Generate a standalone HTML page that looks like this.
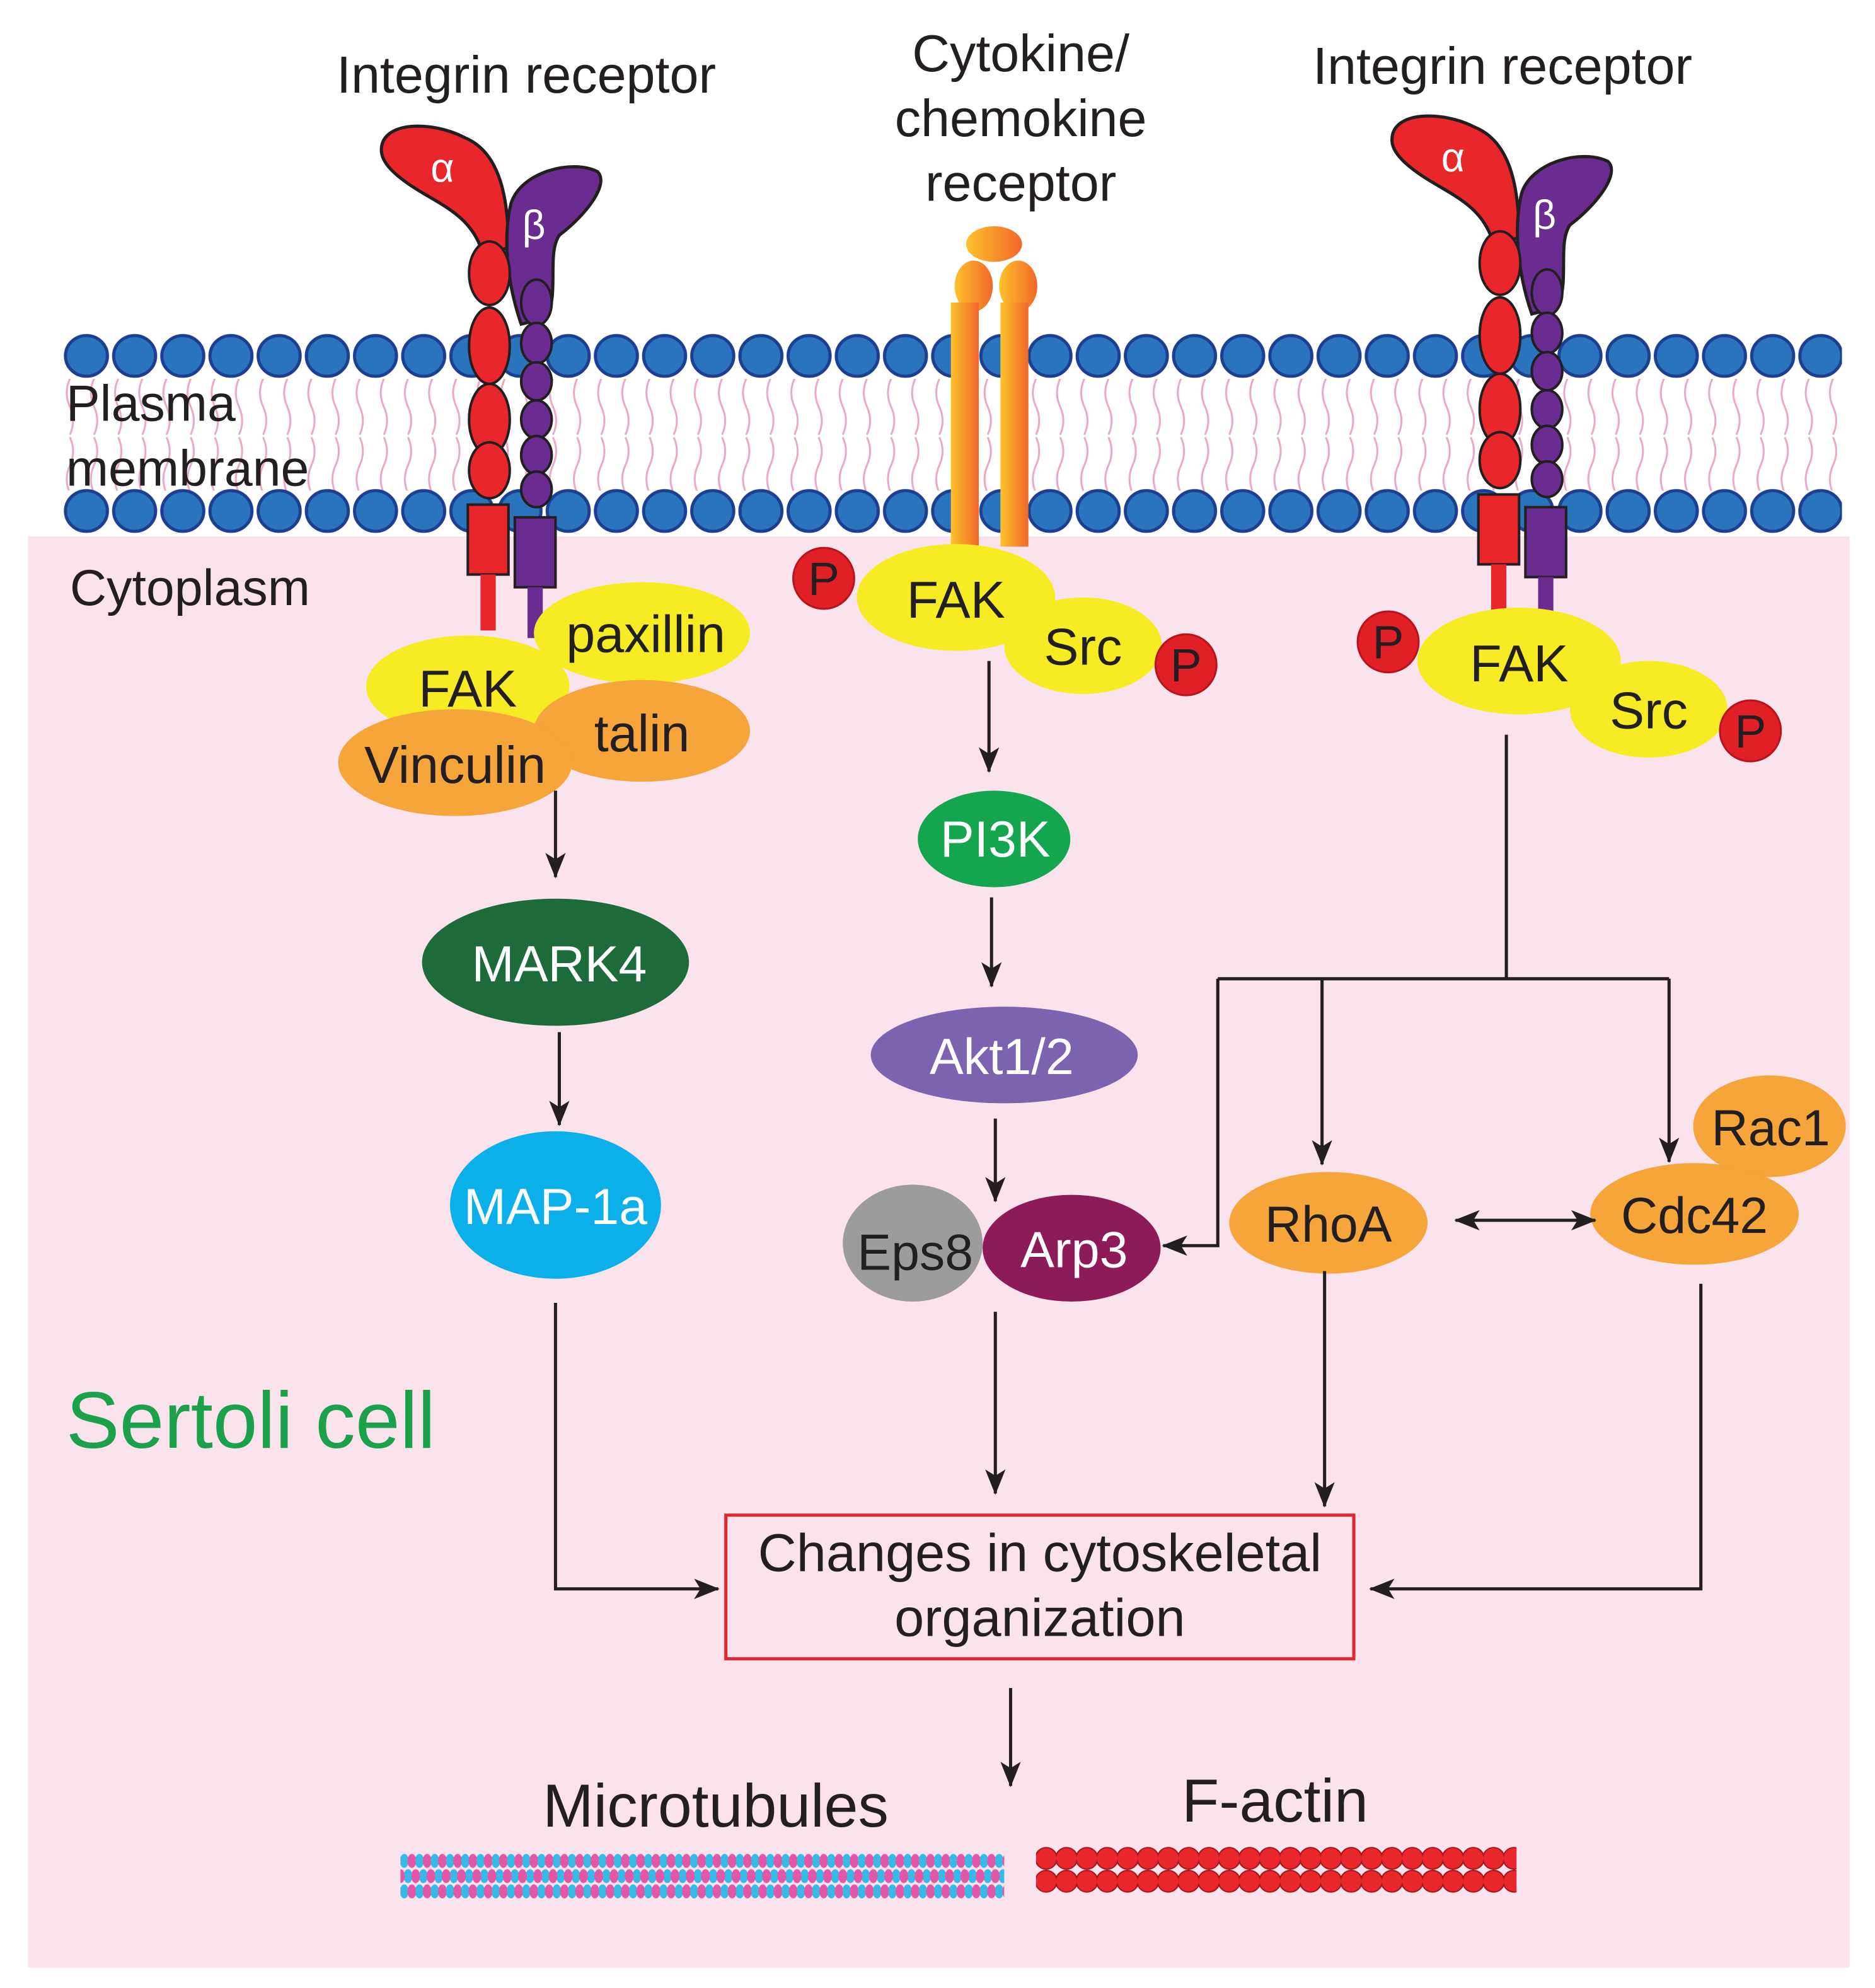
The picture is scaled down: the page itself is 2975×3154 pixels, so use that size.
<!DOCTYPE html>
<html><head><meta charset="utf-8"><style>html,body{margin:0;padding:0;background:#fff}svg{display:block}text{font-family:"Liberation Sans",sans-serif}</style></head>
<body>
<svg width="2975" height="3154" viewBox="0 0 1475 1564" preserveAspectRatio="none" xmlns="http://www.w3.org/2000/svg">
<defs>
<pattern id="bead1" x="49" y="260" width="37.9" height="40" patternUnits="userSpaceOnUse">
<ellipse cx="19" cy="20" rx="16.5" ry="16" fill="#2a73bd" stroke="#1d3f8f" stroke-width="2.5"/>
</pattern>
<pattern id="bead2" x="49" y="382" width="37.9" height="40" patternUnits="userSpaceOnUse">
<ellipse cx="19" cy="20" rx="16.5" ry="16" fill="#2a73bd" stroke="#1d3f8f" stroke-width="2.5"/>
</pattern>
<pattern id="lip" x="50" y="298" width="19" height="90" patternUnits="userSpaceOnUse">
<path d="M5 0 q-5 11 0 22 q5 11 0 22 M5 46 q5 11 0 22 q-5 11 0 22" fill="none" stroke="#eaa7c9" stroke-width="1.5"/>
</pattern>
<linearGradient id="og" x1="0" x2="1"><stop offset="0" stop-color="#fdc22a"/><stop offset="1" stop-color="#f2672a"/></linearGradient>
<pattern id="mt" x="315" y="1458" width="12" height="36" patternUnits="userSpaceOnUse">
<ellipse cx="3" cy="6" rx="3.5" ry="5.5" fill="#35b9e6"/><ellipse cx="9" cy="6" rx="3.5" ry="5.5" fill="#e357a8"/>
<ellipse cx="6" cy="18" rx="3.5" ry="5.5" fill="#35b9e6"/><ellipse cx="12" cy="18" rx="3.5" ry="5.5" fill="#e357a8"/><ellipse cx="0" cy="18" rx="3.5" ry="5.5" fill="#e357a8"/>
<ellipse cx="3" cy="30" rx="3.5" ry="5.5" fill="#35b9e6"/><ellipse cx="9" cy="30" rx="3.5" ry="5.5" fill="#e357a8"/>
</pattern>
<pattern id="fa" x="815" y="1450" width="16" height="44" patternUnits="userSpaceOnUse">
<circle cx="8" cy="12" r="8.5" fill="#e8262b" stroke="#a0161b" stroke-width="1"/>
<circle cx="8" cy="30" r="8.5" fill="#e8262b" stroke="#a0161b" stroke-width="1"/>
</pattern>
<marker id="ah" viewBox="0 0 20 16" refX="19" refY="8" markerWidth="20" markerHeight="16" markerUnits="userSpaceOnUse" orient="auto-start-reverse">
<path d="M0 0 L20 8 L0 16 L5 8 Z" fill="#231f20"/>
</marker>
<g id="integ">
<path d="M300 118 C300 95 340 95 365 108 C395 120 400 160 400 195 L380 200 C370 165 340 160 315 140 C305 132 300 125 300 118Z" fill="#e8262b" stroke="#231f20" stroke-width="2.5"/>
<path d="M402 160 C410 135 450 125 470 135 C480 145 460 170 440 185 C430 200 440 230 430 250 L410 255 C398 220 396 185 402 160Z" fill="#6a2c91" stroke="#231f20" stroke-width="2.5"/>
<g fill="#e8262b" stroke="#231f20" stroke-width="2">
<ellipse cx="385" cy="215" rx="16" ry="25"/><ellipse cx="385" cy="272" rx="16" ry="30"/><ellipse cx="385" cy="330" rx="16" ry="28"/><ellipse cx="385" cy="370" rx="16" ry="22"/></g>
<g fill="#6a2c91" stroke="#231f20" stroke-width="2">
<ellipse cx="422" cy="238" rx="12" ry="18"/><ellipse cx="422" cy="270" rx="12" ry="16"/><ellipse cx="422" cy="300" rx="12" ry="15"/><ellipse cx="422" cy="330" rx="12" ry="15"/><ellipse cx="422" cy="358" rx="12" ry="15"/><ellipse cx="422" cy="385" rx="12" ry="14"/></g>
<rect x="368" y="397" width="32" height="55" fill="#e8262b" stroke="#231f20" stroke-width="2"/>
<rect x="405" y="407" width="32" height="55" fill="#6a2c91" stroke="#231f20" stroke-width="2"/>
<rect x="378" y="452" width="12" height="44" fill="#e8262b"/>
<rect x="415" y="462" width="12" height="40" fill="#6a2c91"/>
<text x="348" y="143" font-size="32" fill="#fff" font-family="Liberation Serif,serif" text-anchor="middle">α</text>
<text x="420" y="188" font-size="32" fill="#fff" font-family="Liberation Serif,serif" text-anchor="middle">β</text>
</g>
</defs>
<rect x="22" y="422" width="1433" height="1126" fill="#fbe3ee"/>
<rect x="50" y="298" width="1398" height="88" fill="url(#lip)"/>
<rect x="49" y="260" width="1400" height="40" fill="url(#bead1)"/>
<rect x="49" y="382" width="1400" height="40" fill="url(#bead2)"/>

<g font-size="41" fill="#231f20" text-anchor="middle">
<text x="414" y="73">Integrin receptor</text>
<text x="803" y="56">Cytokine/</text>
<text x="803" y="107">chemokine</text>
<text x="803" y="158">receptor</text>
<text x="1182" y="66">Integrin receptor</text>
</g>
<g font-size="40" fill="#231f20">
<text x="52" y="331">Plasma</text>
<text x="52" y="382">membrane</text>
<text x="55" y="476">Cytoplasm</text>
</g>

<use href="#integ"/>
<use href="#integ" transform="translate(795,-8)"/>

<ellipse cx="782" cy="192" rx="22" ry="14" fill="url(#og)"/>
<ellipse cx="766" cy="225" rx="15" ry="20" fill="url(#og)"/>
<ellipse cx="801" cy="225" rx="15" ry="20" fill="url(#og)"/>
<rect x="748" y="238" width="22" height="192" fill="url(#og)"/>
<rect x="787" y="238" width="22" height="192" fill="url(#og)"/>

<g font-size="41" fill="#231f20" text-anchor="middle">
<ellipse cx="505" cy="498" rx="85" ry="40" fill="#f7ec23"/>
<ellipse cx="368" cy="540" rx="80" ry="40" fill="#f7ec23"/>
<ellipse cx="505" cy="575" rx="85" ry="40" fill="#f5a53a"/>
<ellipse cx="358" cy="600" rx="92" ry="42" fill="#f5a53a"/>
<text x="508" y="513">paxillin</text>
<text x="368" y="556">FAK</text>
<text x="505" y="591">talin</text>
<text x="358" y="616">Vinculin</text>

<ellipse cx="852" cy="508" rx="62" ry="38" fill="#f7ec23"/>
<ellipse cx="752" cy="470" rx="78" ry="42" fill="#f7ec23"/>
<text x="752" y="486">FAK</text><text x="852" y="523">Src</text>
<ellipse cx="1297" cy="558" rx="62" ry="38" fill="#f7ec23"/>
<ellipse cx="1195" cy="520" rx="80" ry="42" fill="#f7ec23"/>
<text x="1195" y="536">FAK</text><text x="1297" y="573">Src</text>
</g>
<g fill="#e01f26" stroke="#b5151b" stroke-width="1.5">
<circle cx="648" cy="455" r="24"/><circle cx="933" cy="523" r="24"/><circle cx="1092" cy="505" r="24"/><circle cx="1377" cy="575" r="24"/></g>
<g font-size="37" fill="#231f20" text-anchor="middle">
<text x="648" y="468">P</text><text x="933" y="536">P</text><text x="1092" y="518">P</text><text x="1377" y="588">P</text></g>

<ellipse cx="437" cy="757" rx="105" ry="50" fill="#1d6b3b"/>
<ellipse cx="437" cy="948" rx="83" ry="58" fill="#0bb0ea"/>
<ellipse cx="782" cy="660" rx="60" ry="38" fill="#14a54f"/>
<ellipse cx="790" cy="830" rx="105" ry="38" fill="#7b63b0"/>
<ellipse cx="718" cy="978" rx="55" ry="46" fill="#9c9c9c"/>
<ellipse cx="843" cy="982" rx="70" ry="42" fill="#8c1b58"/>
<ellipse cx="1045" cy="962" rx="78" ry="40" fill="#f5a53a"/>
<ellipse cx="1392" cy="886" rx="60" ry="40" fill="#f5a53a"/>
<ellipse cx="1333" cy="955" rx="82" ry="40" fill="#f5a53a"/>
<g font-size="40" text-anchor="middle" fill="#fff">
<text x="440" y="772">MARK4</text><text x="437" y="963">MAP-1a</text><text x="783" y="674">PI3K</text>
<text x="788" y="845">Akt1/2</text><text x="845" y="997">Arp3</text></g>
<g font-size="40" text-anchor="middle" fill="#231f20">
<text x="720" y="999">Eps8</text><text x="1045" y="977">RhoA</text><text x="1393" y="901">Rac1</text><text x="1333" y="970">Cdc42</text></g>

<g stroke="#231f20" stroke-width="2.5" fill="none">
<line x1="437" y1="622" x2="437" y2="690" marker-end="url(#ah)"/>
<line x1="440" y1="812" x2="440" y2="885" marker-end="url(#ah)"/>
<line x1="778" y1="520" x2="778" y2="607" marker-end="url(#ah)"/>
<line x1="780" y1="706" x2="780" y2="776" marker-end="url(#ah)"/>
<line x1="783" y1="880" x2="783" y2="945" marker-end="url(#ah)"/>
<polyline points="1185,578 1185,770"/>
<polyline points="958,770 1313,770"/>
<polyline points="958,770 958,980 915,980" marker-end="url(#ah)"/>
<line x1="1040" y1="770" x2="1040" y2="916" marker-end="url(#ah)"/>
<line x1="1313" y1="770" x2="1313" y2="914" marker-end="url(#ah)"/>
<line x1="1145" y1="960" x2="1255" y2="960" marker-start="url(#ah)" marker-end="url(#ah)"/>
<polyline points="437,1025 437,1250 565,1250" marker-end="url(#ah)"/>
<line x1="783" y1="1032" x2="783" y2="1175" marker-end="url(#ah)"/>
<line x1="1042" y1="1000" x2="1042" y2="1185" marker-end="url(#ah)"/>
<polyline points="1338,1010 1338,1250 1078,1250" marker-end="url(#ah)"/>
<line x1="795" y1="1328" x2="795" y2="1405" marker-end="url(#ah)"/>
</g>
<rect x="571" y="1192" width="494" height="113" fill="none" stroke="#e2262e" stroke-width="2.5"/>
<g font-size="42" fill="#231f20" text-anchor="middle">
<text x="818" y="1236">Changes in cytoskeletal</text>
<text x="818" y="1287">organization</text>
<text x="563" y="1437" font-size="48">Microtubules</text>
<text x="1003" y="1433" font-size="48">F-actin</text>
</g>
<text x="52" y="1139" font-size="63" fill="#1aa14a">Sertoli cell</text>
<rect x="315" y="1458" width="475" height="36" fill="url(#mt)"/>
<rect x="815" y="1450" width="378" height="44" fill="url(#fa)"/>
</svg>
</body></html>
